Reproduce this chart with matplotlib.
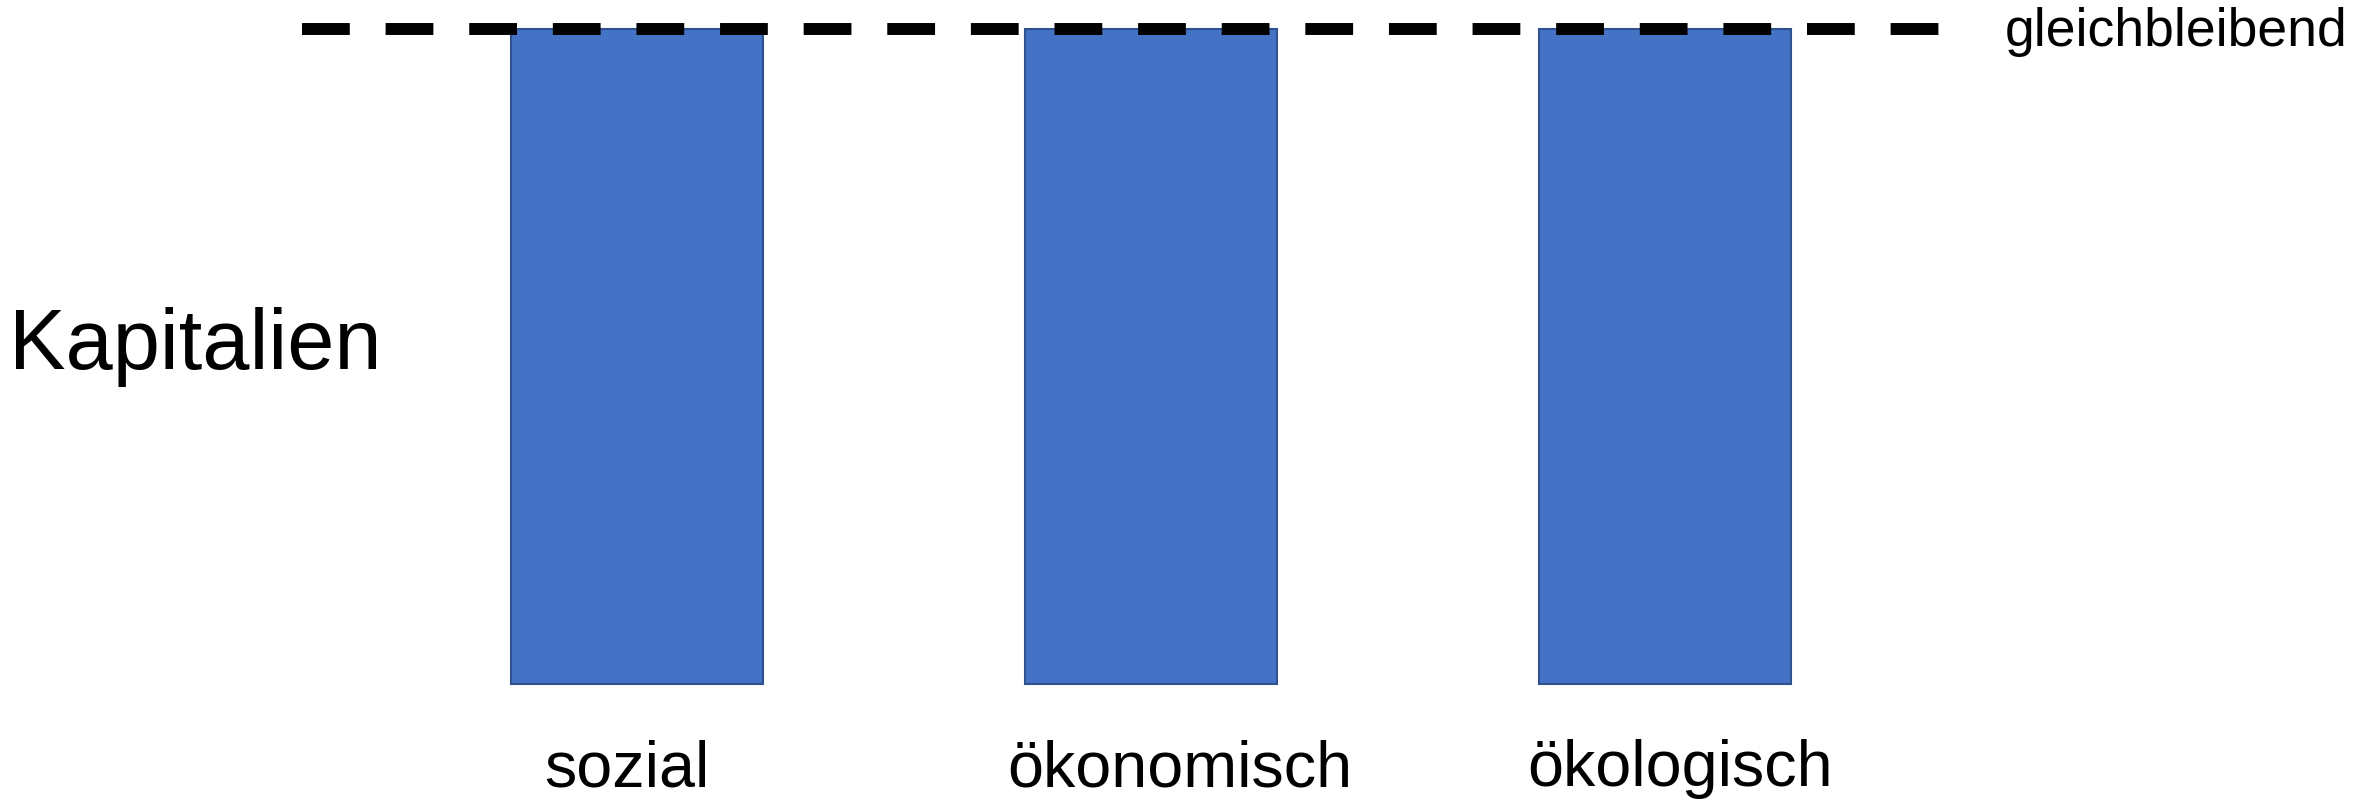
import numpy as np
import matplotlib.pyplot as plt

# Kapitalien - alle gleichbleibend
categories = ["sozial", "ökonomisch", "ökologisch"]
values = [1.0, 1.0, 1.0]
level = 1.0
level_label = "gleichbleibend"
ylabel = "Kapitalien"

plt.rcParams['font.family'] = ['Liberation Sans', 'DejaVu Sans']

fig = plt.figure(figsize=(23.56, 8.07), dpi=100)
ax = fig.add_axes([0, 0, 1, 1])

x = np.arange(len(categories))
ax.bar(x, values, width=0.49, color='#4472C4', edgecolor='#2F528F', linewidth=1.5, zorder=2)

# dashed reference line
ax.plot([-0.652, 2.547], [level, level], color='black', linewidth=8.6,
        linestyle=(0, (4, 3)), solid_capstyle='butt', dash_capstyle='butt', zorder=3)

ax.set_xlim(-1.239, 3.344)
ax.set_ylim(-0.188, 1.044)
ax.axis('off')

label_shift = [-0.02, 0.056, 0.03]
for i, name in enumerate(categories):
    ax.text(x[i] + label_shift[i], -0.13, name, ha='center', va='center', fontsize=46.5)

ax.text(2.661, level - 0.005, level_label, ha='left', va='center', fontsize=38.5)
fig.text(0.004, 0.57, ylabel, ha='left', va='center', fontsize=61)

fig.savefig("out.png", dpi=100)
